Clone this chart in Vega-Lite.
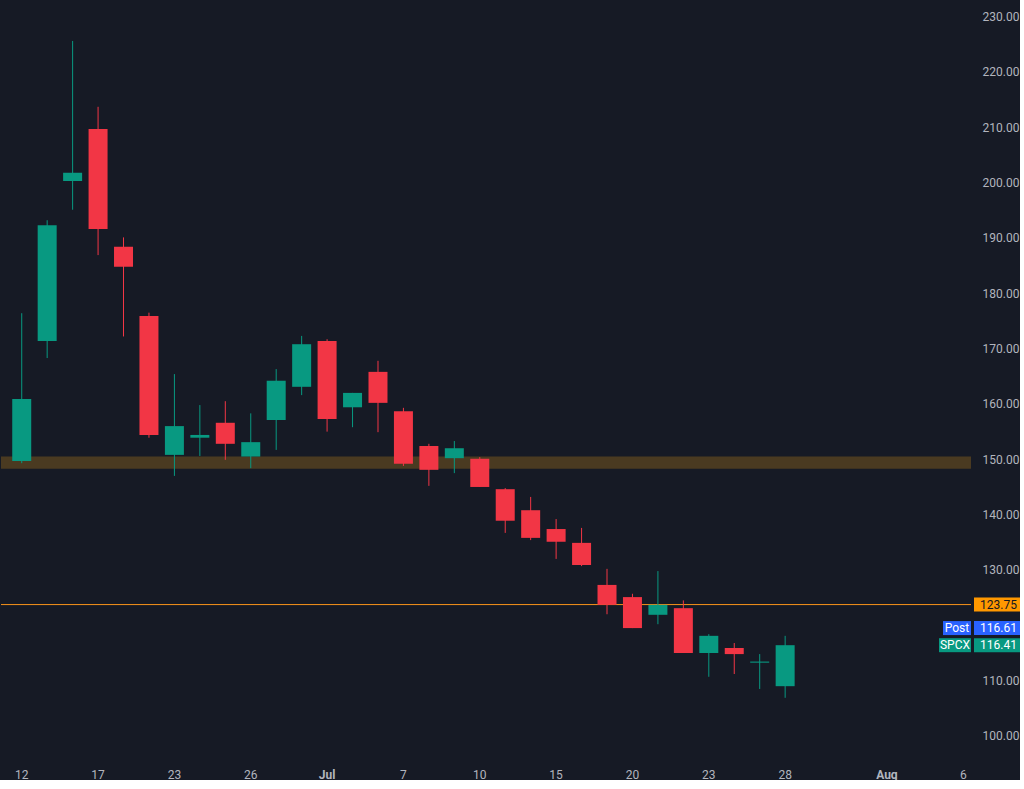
{
  "$schema": "https://vega.github.io/schema/vega-lite/v6.json",
  "width": 970,
  "height": 762,
  "padding": 0,
  "background": "#161a25",
  "config": {
    "view": {"stroke": null},
    "font": "Roboto",
    "axis": {"labelColor": "#b2b5be", "labelFont": "Roboto", "labelFontSize": 12, "grid": false, "domain": false, "ticks": false, "tickSize": 0, "title": null}
  },
  "datasets": {
    "ohlc": [
      {"d": "2026-06-12", "o": 149.7, "h": 176.4, "l": 149.3, "c": 160.9},
      {"d": "2026-06-15", "o": 171.4, "h": 193.2, "l": 168.3, "c": 192.3},
      {"d": "2026-06-16", "o": 200.3, "h": 225.6, "l": 195.1, "c": 201.8},
      {"d": "2026-06-17", "o": 209.7, "h": 213.7, "l": 186.9, "c": 191.6},
      {"d": "2026-06-18", "o": 188.4, "h": 190.1, "l": 172.2, "c": 184.8},
      {"d": "2026-06-22", "o": 175.9, "h": 176.5, "l": 153.9, "c": 154.4},
      {"d": "2026-06-23", "o": 150.8, "h": 165.4, "l": 147.0, "c": 156.0},
      {"d": "2026-06-24", "o": 153.9, "h": 159.8, "l": 150.6, "c": 154.4},
      {"d": "2026-06-25", "o": 156.6, "h": 160.5, "l": 149.9, "c": 152.8},
      {"d": "2026-06-26", "o": 150.5, "h": 158.3, "l": 148.4, "c": 153.1},
      {"d": "2026-06-29", "o": 157.1, "h": 166.3, "l": 151.7, "c": 164.2},
      {"d": "2026-06-30", "o": 163.1, "h": 172.3, "l": 161.6, "c": 170.8},
      {"d": "2026-07-01", "o": 171.4, "h": 171.7, "l": 155.0, "c": 157.3},
      {"d": "2026-07-02", "o": 159.4, "h": 162.0, "l": 155.8, "c": 162.0},
      {"d": "2026-07-06", "o": 165.8, "h": 167.8, "l": 154.9, "c": 160.2},
      {"d": "2026-07-07", "o": 158.7, "h": 159.3, "l": 148.8, "c": 149.2},
      {"d": "2026-07-08", "o": 152.4, "h": 152.8, "l": 145.2, "c": 148.1},
      {"d": "2026-07-09", "o": 150.2, "h": 153.3, "l": 147.5, "c": 152.0},
      {"d": "2026-07-10", "o": 150.1, "h": 150.4, "l": 145.0, "c": 145.0},
      {"d": "2026-07-13", "o": 144.6, "h": 144.8, "l": 136.7, "c": 138.9},
      {"d": "2026-07-14", "o": 140.8, "h": 143.2, "l": 135.4, "c": 135.8},
      {"d": "2026-07-15", "o": 137.4, "h": 139.2, "l": 132.0, "c": 135.1},
      {"d": "2026-07-16", "o": 134.9, "h": 137.6, "l": 130.7, "c": 130.9},
      {"d": "2026-07-17", "o": 127.3, "h": 130.2, "l": 122.0, "c": 123.7},
      {"d": "2026-07-20", "o": 125.1, "h": 125.7, "l": 119.5, "c": 119.5},
      {"d": "2026-07-21", "o": 121.9, "h": 129.8, "l": 120.2, "c": 123.7},
      {"d": "2026-07-22", "o": 123.1, "h": 124.5, "l": 115.0, "c": 115.0},
      {"d": "2026-07-23", "o": 115.0, "h": 118.4, "l": 110.7, "c": 118.1},
      {"d": "2026-07-24", "o": 115.9, "h": 116.8, "l": 111.2, "c": 114.8},
      {"d": "2026-07-27", "o": 113.25, "h": 114.8, "l": 108.5, "c": 113.45},
      {"d": "2026-07-28", "o": 109.0, "h": 118.1, "l": 106.9, "c": 116.41}
    ],
    "zone": [{"lo": 148.3, "hi": 150.5}],
    "level": [{"p": 123.75}],
    "tags": [
      {"tag": "Target", "p": 123.75},
      {"tag": "Post", "p": 116.61},
      {"tag": "SPCX", "p": 116.41}
    ]
  },
  "encoding": {
    "x": {
      "field": "d", "type": "ordinal",
      "scale": {
        "domain": ["2026-06-12","2026-06-15","2026-06-16","2026-06-17","2026-06-18","2026-06-22","2026-06-23","2026-06-24","2026-06-25","2026-06-26","2026-06-29","2026-06-30","2026-07-01","2026-07-02","2026-07-06","2026-07-07","2026-07-08","2026-07-09","2026-07-10","2026-07-13","2026-07-14","2026-07-15","2026-07-16","2026-07-17","2026-07-20","2026-07-21","2026-07-22","2026-07-23","2026-07-24","2026-07-27","2026-07-28","2026-07-29","2026-07-30","2026-07-31","2026-08-03","2026-08-04","2026-08-05","2026-08-06"],
        "range": [8, 975],
        "paddingInner": 0, "paddingOuter": 0
      },
      "axis": {
        "values": ["2026-06-12","2026-06-17","2026-06-23","2026-06-26","2026-07-01","2026-07-07","2026-07-10","2026-07-15","2026-07-20","2026-07-23","2026-07-28","2026-08-03","2026-08-06"],
        "labelAngle": 0,
        "labelPadding": 7,
        "labelExpr": "datum.value == '2026-07-01' ? 'Jul' : datum.value == '2026-08-03' ? 'Aug' : '' + toNumber(substring(datum.value, 8, 10))",
        "labelFontWeight": {"condition": {"test": "datum.value == '2026-07-01' || datum.value == '2026-08-03'", "value": "bold"}, "value": "normal"}
      }
    }
  },
  "layer": [
    {
      "data": {"name": "zone"},
      "mark": {"type": "rect", "color": "#4a3a21"},
      "encoding": {
        "x": null,
        "y": {
          "field": "lo", "type": "quantitative",
          "scale": {"domain": [95.3, 233.0], "nice": false, "zero": false},
          "axis": {
            "orient": "right",
            "values": [100, 110, 130, 140, 150, 160, 170, 180, 190, 200, 210, 220, 230],
            "format": ".2f",
            "labelAlign": "right",
            "labelPadding": 48,
            "labelOverlap": false
          }
        },
        "y2": {"field": "hi"}
      }
    },
    {
      "data": {"name": "level"},
      "mark": {"type": "rule", "color": "#f7931a", "strokeWidth": 1},
      "encoding": {"x": null, "y": {"field": "p", "type": "quantitative"}}
    },
    {
      "data": {"name": "ohlc"},
      "mark": {"type": "rule", "strokeWidth": 1},
      "encoding": {
        "y": {"field": "l", "type": "quantitative"},
        "y2": {"field": "h"},
        "color": {"condition": {"test": "datum.c >= datum.o", "value": "#089981"}, "value": "#f23645"}
      }
    },
    {
      "data": {"name": "ohlc"},
      "mark": {"type": "bar", "size": 19},
      "encoding": {
        "y": {"field": "o", "type": "quantitative"},
        "y2": {"field": "c"},
        "color": {"condition": {"test": "datum.c >= datum.o", "value": "#089981"}, "value": "#f23645"}
      }
    },
    {
      "data": {"name": "tags"},
      "transform": [{"filter": "datum.tag != 'Post'"}],
      "mark": {"type": "rect", "yOffset": -7, "y2Offset": 7},
      "encoding": {
        "x": {"value": 973}, "x2": {"value": 1019},
        "y": {"field": "p", "type": "quantitative"}, "y2": {"field": "p"},
        "color": {"field": "tag", "type": "nominal", "legend": null,
          "scale": {"domain": ["Target", "Post", "SPCX"], "range": ["#ff9800", "#2962ff", "#089981"]}}
      }
    },
    {
      "data": {"name": "tags"},
      "transform": [{"filter": "datum.tag == 'SPCX'"}],
      "mark": {"type": "rect", "yOffset": -7, "y2Offset": 7},
      "encoding": {
        "x": {"value": 938}, "x2": {"value": 970},
        "y": {"field": "p", "type": "quantitative"}, "y2": {"field": "p"},
        "color": {"field": "tag", "type": "nominal", "legend": null}
      }
    },
    {
      "data": {"name": "tags"},
      "transform": [{"filter": "datum.tag == 'Post'"}],
      "layer": [
        {
          "mark": {"type": "rect", "yOffset": -23, "y2Offset": -9},
          "encoding": {"x": {"value": 973}, "x2": {"value": 1019}}
        },
        {
          "mark": {"type": "rect", "yOffset": -23, "y2Offset": -9},
          "encoding": {"x": {"value": 942}, "x2": {"value": 970}}
        }
      ],
      "encoding": {
        "y": {"field": "p", "type": "quantitative"}, "y2": {"field": "p"},
        "color": {"field": "tag", "type": "nominal", "legend": null}
      }
    },
    {
      "data": {"name": "tags"},
      "transform": [{"filter": "datum.tag != 'Post'"}],
      "mark": {"type": "text", "align": "right", "baseline": "middle", "fontSize": 12, "font": "Roboto"},
      "encoding": {
        "x": {"value": 1016},
        "y": {"field": "p", "type": "quantitative"},
        "text": {"field": "p", "type": "quantitative", "format": ".2f"},
        "color": {"condition": {"test": "datum.tag == 'Target'", "value": "#131722"}, "value": "#ffffff"}
      }
    },
    {
      "data": {"name": "tags"},
      "transform": [{"filter": "datum.tag == 'Post'"}],
      "mark": {"type": "text", "align": "right", "baseline": "middle", "fontSize": 12, "font": "Roboto", "yOffset": -16, "color": "#ffffff"},
      "encoding": {
        "x": {"value": 1016},
        "y": {"field": "p", "type": "quantitative"},
        "text": {"field": "p", "type": "quantitative", "format": ".2f"}
      }
    },
    {
      "data": {"name": "tags"},
      "transform": [{"filter": "datum.tag == 'SPCX'"}],
      "mark": {"type": "text", "align": "center", "baseline": "middle", "fontSize": 12, "font": "Roboto", "color": "#ffffff"},
      "encoding": {
        "x": {"value": 954},
        "y": {"field": "p", "type": "quantitative"},
        "text": {"field": "tag"}
      }
    },
    {
      "data": {"name": "tags"},
      "transform": [{"filter": "datum.tag == 'Post'"}],
      "mark": {"type": "text", "align": "center", "baseline": "middle", "fontSize": 12, "font": "Roboto", "color": "#ffffff", "yOffset": -16},
      "encoding": {
        "x": {"value": 956},
        "y": {"field": "p", "type": "quantitative"},
        "text": {"field": "tag"}
      }
    }
  ]
}
